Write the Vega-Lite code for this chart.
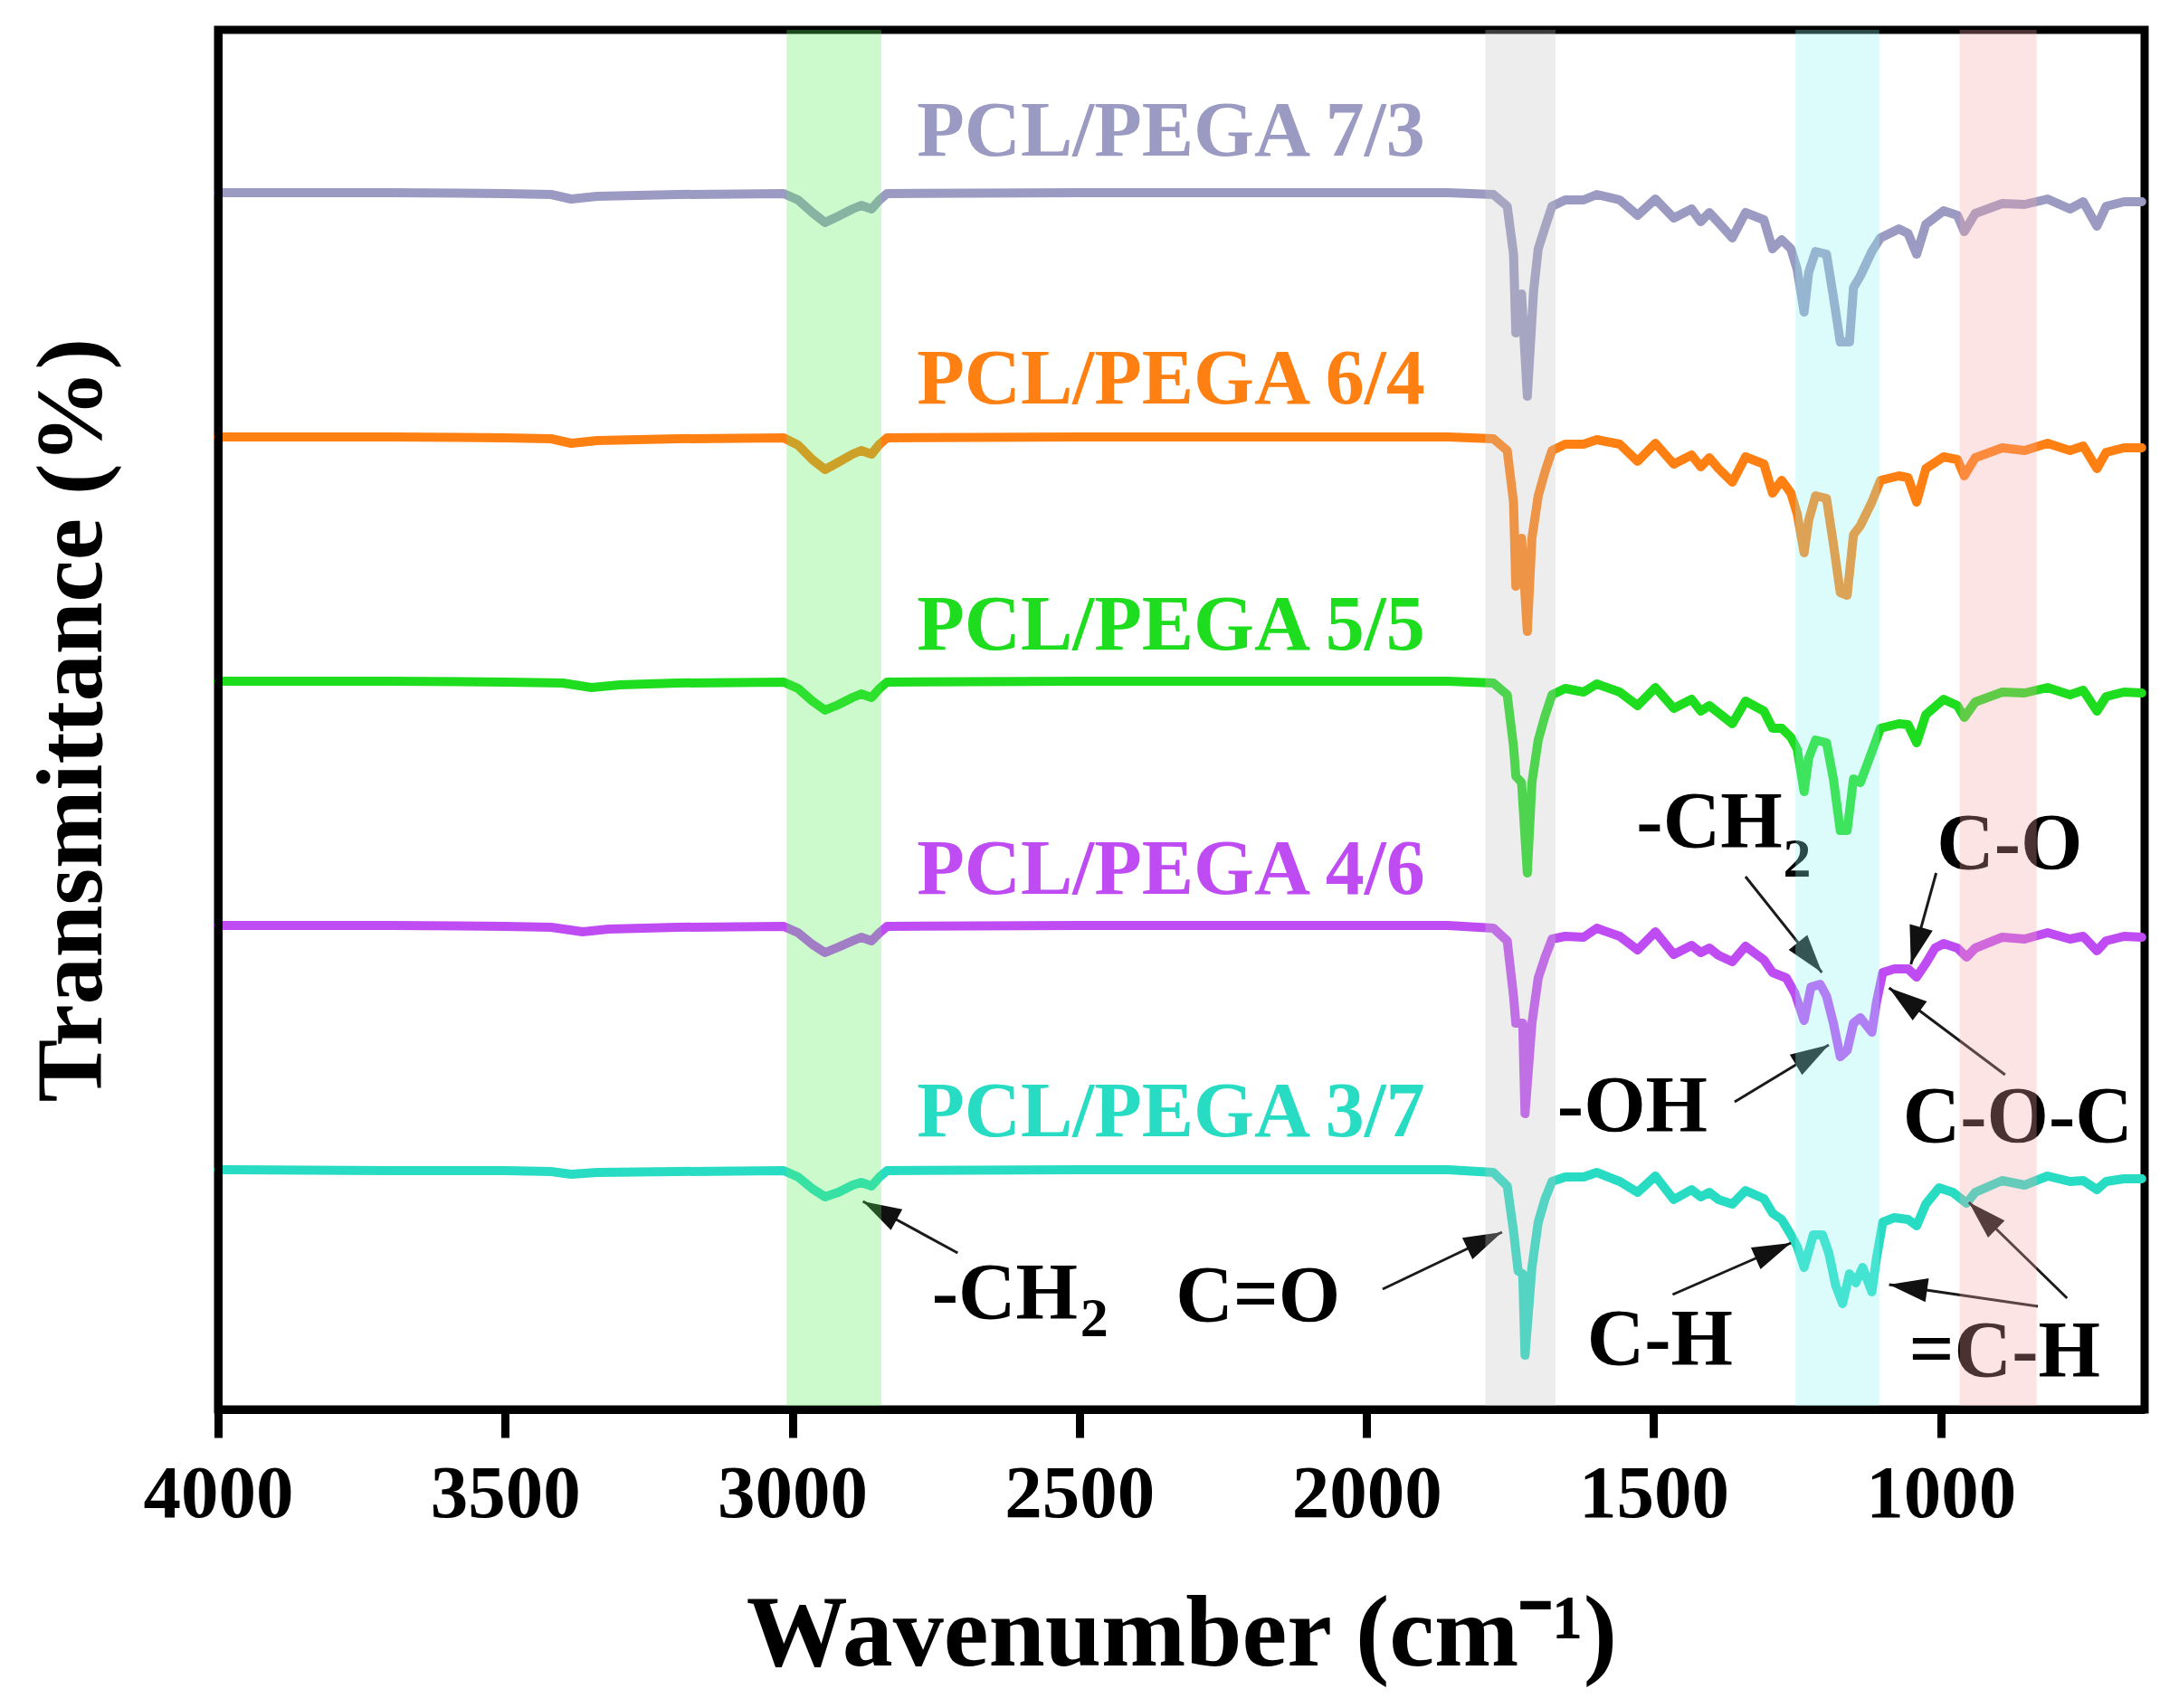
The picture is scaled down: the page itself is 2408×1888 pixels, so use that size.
{
  "$schema": "https://vega.github.io/schema/vega-lite/v6.json",
  "width": 2129,
  "height": 1525,
  "autosize": {"type": "none"},
  "padding": {"left": 241, "top": 33, "right": 38, "bottom": 330},
  "background": "white",
  "config": {
    "font": "Liberation Serif",
    "view": {"stroke": "black", "strokeWidth": 9},
    "axis": {"grid": false}
  },
  "resolve": {"scale": {"color": "independent", "fill": "independent"}},
  "datasets": {
    "spectra": [
      {"series": "PCL/PEGA 7/3", "wn": 4000, "T": 134.5},
      {"series": "PCL/PEGA 7/3", "wn": 3700, "T": 134.5},
      {"series": "PCL/PEGA 7/3", "wn": 3500, "T": 134.4},
      {"series": "PCL/PEGA 7/3", "wn": 3420, "T": 134.3},
      {"series": "PCL/PEGA 7/3", "wn": 3385, "T": 133.8},
      {"series": "PCL/PEGA 7/3", "wn": 3340, "T": 134.1},
      {"series": "PCL/PEGA 7/3", "wn": 3200, "T": 134.3},
      {"series": "PCL/PEGA 7/3", "wn": 3015, "T": 134.4},
      {"series": "PCL/PEGA 7/3", "wn": 2990, "T": 133.7},
      {"series": "PCL/PEGA 7/3", "wn": 2965, "T": 132.3},
      {"series": "PCL/PEGA 7/3", "wn": 2943, "T": 131.2},
      {"series": "PCL/PEGA 7/3", "wn": 2920, "T": 131.9},
      {"series": "PCL/PEGA 7/3", "wn": 2895, "T": 132.7},
      {"series": "PCL/PEGA 7/3", "wn": 2880, "T": 133.1},
      {"series": "PCL/PEGA 7/3", "wn": 2862, "T": 132.7},
      {"series": "PCL/PEGA 7/3", "wn": 2848, "T": 133.7},
      {"series": "PCL/PEGA 7/3", "wn": 2835, "T": 134.4},
      {"series": "PCL/PEGA 7/3", "wn": 2500, "T": 134.5},
      {"series": "PCL/PEGA 7/3", "wn": 2000, "T": 134.5},
      {"series": "PCL/PEGA 7/3", "wn": 1858, "T": 134.5},
      {"series": "PCL/PEGA 7/3", "wn": 1779, "T": 134.3},
      {"series": "PCL/PEGA 7/3", "wn": 1755, "T": 133.0},
      {"series": "PCL/PEGA 7/3", "wn": 1744, "T": 127.7},
      {"series": "PCL/PEGA 7/3", "wn": 1740, "T": 119.0},
      {"series": "PCL/PEGA 7/3", "wn": 1730, "T": 123.3},
      {"series": "PCL/PEGA 7/3", "wn": 1720, "T": 112.0},
      {"series": "PCL/PEGA 7/3", "wn": 1709, "T": 123.7},
      {"series": "PCL/PEGA 7/3", "wn": 1701, "T": 128.3},
      {"series": "PCL/PEGA 7/3", "wn": 1689, "T": 130.7},
      {"series": "PCL/PEGA 7/3", "wn": 1677, "T": 133.0},
      {"series": "PCL/PEGA 7/3", "wn": 1654, "T": 133.7},
      {"series": "PCL/PEGA 7/3", "wn": 1622, "T": 133.7},
      {"series": "PCL/PEGA 7/3", "wn": 1599, "T": 134.3},
      {"series": "PCL/PEGA 7/3", "wn": 1559, "T": 133.7},
      {"series": "PCL/PEGA 7/3", "wn": 1528, "T": 132.0},
      {"series": "PCL/PEGA 7/3", "wn": 1497, "T": 133.8},
      {"series": "PCL/PEGA 7/3", "wn": 1465, "T": 131.7},
      {"series": "PCL/PEGA 7/3", "wn": 1434, "T": 132.7},
      {"series": "PCL/PEGA 7/3", "wn": 1418, "T": 131.3},
      {"series": "PCL/PEGA 7/3", "wn": 1403, "T": 132.3},
      {"series": "PCL/PEGA 7/3", "wn": 1387, "T": 131.2},
      {"series": "PCL/PEGA 7/3", "wn": 1363, "T": 129.5},
      {"series": "PCL/PEGA 7/3", "wn": 1340, "T": 132.3},
      {"series": "PCL/PEGA 7/3", "wn": 1308, "T": 131.5},
      {"series": "PCL/PEGA 7/3", "wn": 1293, "T": 128.3},
      {"series": "PCL/PEGA 7/3", "wn": 1277, "T": 129.3},
      {"series": "PCL/PEGA 7/3", "wn": 1261, "T": 128.3},
      {"series": "PCL/PEGA 7/3", "wn": 1250, "T": 126.0},
      {"series": "PCL/PEGA 7/3", "wn": 1238, "T": 121.3},
      {"series": "PCL/PEGA 7/3", "wn": 1230, "T": 125.7},
      {"series": "PCL/PEGA 7/3", "wn": 1218, "T": 128.0},
      {"series": "PCL/PEGA 7/3", "wn": 1199, "T": 127.7},
      {"series": "PCL/PEGA 7/3", "wn": 1187, "T": 123.0},
      {"series": "PCL/PEGA 7/3", "wn": 1175, "T": 118.0},
      {"series": "PCL/PEGA 7/3", "wn": 1159, "T": 118.0},
      {"series": "PCL/PEGA 7/3", "wn": 1152, "T": 124.0},
      {"series": "PCL/PEGA 7/3", "wn": 1140, "T": 125.3},
      {"series": "PCL/PEGA 7/3", "wn": 1120, "T": 128.0},
      {"series": "PCL/PEGA 7/3", "wn": 1105, "T": 129.5},
      {"series": "PCL/PEGA 7/3", "wn": 1073, "T": 130.5},
      {"series": "PCL/PEGA 7/3", "wn": 1057, "T": 130.0},
      {"series": "PCL/PEGA 7/3", "wn": 1042, "T": 127.7},
      {"series": "PCL/PEGA 7/3", "wn": 1026, "T": 131.0},
      {"series": "PCL/PEGA 7/3", "wn": 995, "T": 132.5},
      {"series": "PCL/PEGA 7/3", "wn": 971, "T": 132.0},
      {"series": "PCL/PEGA 7/3", "wn": 959, "T": 130.2},
      {"series": "PCL/PEGA 7/3", "wn": 940, "T": 132.2},
      {"series": "PCL/PEGA 7/3", "wn": 893, "T": 133.3},
      {"series": "PCL/PEGA 7/3", "wn": 854, "T": 133.2},
      {"series": "PCL/PEGA 7/3", "wn": 814, "T": 133.8},
      {"series": "PCL/PEGA 7/3", "wn": 775, "T": 132.7},
      {"series": "PCL/PEGA 7/3", "wn": 752, "T": 133.5},
      {"series": "PCL/PEGA 7/3", "wn": 728, "T": 130.8},
      {"series": "PCL/PEGA 7/3", "wn": 712, "T": 133.0},
      {"series": "PCL/PEGA 7/3", "wn": 681, "T": 133.5},
      {"series": "PCL/PEGA 7/3", "wn": 650, "T": 133.5},

      {"series": "PCL/PEGA 6/4", "wn": 4000, "T": 107.5},
      {"series": "PCL/PEGA 6/4", "wn": 3700, "T": 107.5},
      {"series": "PCL/PEGA 6/4", "wn": 3500, "T": 107.4},
      {"series": "PCL/PEGA 6/4", "wn": 3420, "T": 107.3},
      {"series": "PCL/PEGA 6/4", "wn": 3385, "T": 106.8},
      {"series": "PCL/PEGA 6/4", "wn": 3340, "T": 107.1},
      {"series": "PCL/PEGA 6/4", "wn": 3200, "T": 107.3},
      {"series": "PCL/PEGA 6/4", "wn": 3015, "T": 107.4},
      {"series": "PCL/PEGA 6/4", "wn": 2990, "T": 106.6},
      {"series": "PCL/PEGA 6/4", "wn": 2965, "T": 105.0},
      {"series": "PCL/PEGA 6/4", "wn": 2943, "T": 103.9},
      {"series": "PCL/PEGA 6/4", "wn": 2920, "T": 104.7},
      {"series": "PCL/PEGA 6/4", "wn": 2895, "T": 105.6},
      {"series": "PCL/PEGA 6/4", "wn": 2880, "T": 106.0},
      {"series": "PCL/PEGA 6/4", "wn": 2862, "T": 105.6},
      {"series": "PCL/PEGA 6/4", "wn": 2848, "T": 106.7},
      {"series": "PCL/PEGA 6/4", "wn": 2835, "T": 107.4},
      {"series": "PCL/PEGA 6/4", "wn": 2500, "T": 107.5},
      {"series": "PCL/PEGA 6/4", "wn": 2000, "T": 107.5},
      {"series": "PCL/PEGA 6/4", "wn": 1858, "T": 107.5},
      {"series": "PCL/PEGA 6/4", "wn": 1779, "T": 107.3},
      {"series": "PCL/PEGA 6/4", "wn": 1755, "T": 106.0},
      {"series": "PCL/PEGA 6/4", "wn": 1744, "T": 100.3},
      {"series": "PCL/PEGA 6/4", "wn": 1740, "T": 91.0},
      {"series": "PCL/PEGA 6/4", "wn": 1730, "T": 96.3},
      {"series": "PCL/PEGA 6/4", "wn": 1720, "T": 86.0},
      {"series": "PCL/PEGA 6/4", "wn": 1712, "T": 96.3},
      {"series": "PCL/PEGA 6/4", "wn": 1701, "T": 101.0},
      {"series": "PCL/PEGA 6/4", "wn": 1689, "T": 103.7},
      {"series": "PCL/PEGA 6/4", "wn": 1677, "T": 106.0},
      {"series": "PCL/PEGA 6/4", "wn": 1654, "T": 106.7},
      {"series": "PCL/PEGA 6/4", "wn": 1622, "T": 106.7},
      {"series": "PCL/PEGA 6/4", "wn": 1599, "T": 107.2},
      {"series": "PCL/PEGA 6/4", "wn": 1559, "T": 106.7},
      {"series": "PCL/PEGA 6/4", "wn": 1528, "T": 104.8},
      {"series": "PCL/PEGA 6/4", "wn": 1497, "T": 106.8},
      {"series": "PCL/PEGA 6/4", "wn": 1465, "T": 104.5},
      {"series": "PCL/PEGA 6/4", "wn": 1434, "T": 105.5},
      {"series": "PCL/PEGA 6/4", "wn": 1418, "T": 104.2},
      {"series": "PCL/PEGA 6/4", "wn": 1403, "T": 105.2},
      {"series": "PCL/PEGA 6/4", "wn": 1387, "T": 104.0},
      {"series": "PCL/PEGA 6/4", "wn": 1363, "T": 102.5},
      {"series": "PCL/PEGA 6/4", "wn": 1340, "T": 105.3},
      {"series": "PCL/PEGA 6/4", "wn": 1308, "T": 104.5},
      {"series": "PCL/PEGA 6/4", "wn": 1293, "T": 101.3},
      {"series": "PCL/PEGA 6/4", "wn": 1277, "T": 102.7},
      {"series": "PCL/PEGA 6/4", "wn": 1261, "T": 101.3},
      {"series": "PCL/PEGA 6/4", "wn": 1250, "T": 99.0},
      {"series": "PCL/PEGA 6/4", "wn": 1238, "T": 94.7},
      {"series": "PCL/PEGA 6/4", "wn": 1230, "T": 98.3},
      {"series": "PCL/PEGA 6/4", "wn": 1218, "T": 101.0},
      {"series": "PCL/PEGA 6/4", "wn": 1199, "T": 100.7},
      {"series": "PCL/PEGA 6/4", "wn": 1187, "T": 95.7},
      {"series": "PCL/PEGA 6/4", "wn": 1175, "T": 90.3},
      {"series": "PCL/PEGA 6/4", "wn": 1163, "T": 90.0},
      {"series": "PCL/PEGA 6/4", "wn": 1152, "T": 96.7},
      {"series": "PCL/PEGA 6/4", "wn": 1140, "T": 97.7},
      {"series": "PCL/PEGA 6/4", "wn": 1120, "T": 100.3},
      {"series": "PCL/PEGA 6/4", "wn": 1105, "T": 102.7},
      {"series": "PCL/PEGA 6/4", "wn": 1073, "T": 103.2},
      {"series": "PCL/PEGA 6/4", "wn": 1057, "T": 103.0},
      {"series": "PCL/PEGA 6/4", "wn": 1042, "T": 100.3},
      {"series": "PCL/PEGA 6/4", "wn": 1026, "T": 104.0},
      {"series": "PCL/PEGA 6/4", "wn": 995, "T": 105.3},
      {"series": "PCL/PEGA 6/4", "wn": 971, "T": 105.0},
      {"series": "PCL/PEGA 6/4", "wn": 959, "T": 103.2},
      {"series": "PCL/PEGA 6/4", "wn": 940, "T": 105.2},
      {"series": "PCL/PEGA 6/4", "wn": 893, "T": 106.3},
      {"series": "PCL/PEGA 6/4", "wn": 854, "T": 106.0},
      {"series": "PCL/PEGA 6/4", "wn": 814, "T": 106.8},
      {"series": "PCL/PEGA 6/4", "wn": 775, "T": 106.0},
      {"series": "PCL/PEGA 6/4", "wn": 752, "T": 106.5},
      {"series": "PCL/PEGA 6/4", "wn": 728, "T": 104.0},
      {"series": "PCL/PEGA 6/4", "wn": 712, "T": 105.8},
      {"series": "PCL/PEGA 6/4", "wn": 681, "T": 106.3},
      {"series": "PCL/PEGA 6/4", "wn": 650, "T": 106.3},

      {"series": "PCL/PEGA 5/5", "wn": 4000, "T": 80.5},
      {"series": "PCL/PEGA 5/5", "wn": 3700, "T": 80.5},
      {"series": "PCL/PEGA 5/5", "wn": 3500, "T": 80.4},
      {"series": "PCL/PEGA 5/5", "wn": 3400, "T": 80.3},
      {"series": "PCL/PEGA 5/5", "wn": 3350, "T": 79.8},
      {"series": "PCL/PEGA 5/5", "wn": 3300, "T": 80.1},
      {"series": "PCL/PEGA 5/5", "wn": 3200, "T": 80.3},
      {"series": "PCL/PEGA 5/5", "wn": 3015, "T": 80.4},
      {"series": "PCL/PEGA 5/5", "wn": 2990, "T": 79.7},
      {"series": "PCL/PEGA 5/5", "wn": 2965, "T": 78.3},
      {"series": "PCL/PEGA 5/5", "wn": 2943, "T": 77.3},
      {"series": "PCL/PEGA 5/5", "wn": 2920, "T": 77.9},
      {"series": "PCL/PEGA 5/5", "wn": 2895, "T": 78.7},
      {"series": "PCL/PEGA 5/5", "wn": 2880, "T": 79.1},
      {"series": "PCL/PEGA 5/5", "wn": 2862, "T": 78.7},
      {"series": "PCL/PEGA 5/5", "wn": 2848, "T": 79.7},
      {"series": "PCL/PEGA 5/5", "wn": 2835, "T": 80.4},
      {"series": "PCL/PEGA 5/5", "wn": 2500, "T": 80.5},
      {"series": "PCL/PEGA 5/5", "wn": 2000, "T": 80.5},
      {"series": "PCL/PEGA 5/5", "wn": 1858, "T": 80.5},
      {"series": "PCL/PEGA 5/5", "wn": 1779, "T": 80.3},
      {"series": "PCL/PEGA 5/5", "wn": 1755, "T": 79.0},
      {"series": "PCL/PEGA 5/5", "wn": 1744, "T": 73.3},
      {"series": "PCL/PEGA 5/5", "wn": 1740, "T": 70.0},
      {"series": "PCL/PEGA 5/5", "wn": 1730, "T": 69.3},
      {"series": "PCL/PEGA 5/5", "wn": 1720, "T": 59.3},
      {"series": "PCL/PEGA 5/5", "wn": 1712, "T": 69.3},
      {"series": "PCL/PEGA 5/5", "wn": 1701, "T": 74.0},
      {"series": "PCL/PEGA 5/5", "wn": 1689, "T": 76.7},
      {"series": "PCL/PEGA 5/5", "wn": 1677, "T": 79.0},
      {"series": "PCL/PEGA 5/5", "wn": 1654, "T": 79.7},
      {"series": "PCL/PEGA 5/5", "wn": 1622, "T": 79.3},
      {"series": "PCL/PEGA 5/5", "wn": 1599, "T": 80.2},
      {"series": "PCL/PEGA 5/5", "wn": 1559, "T": 79.3},
      {"series": "PCL/PEGA 5/5", "wn": 1528, "T": 77.8},
      {"series": "PCL/PEGA 5/5", "wn": 1497, "T": 79.8},
      {"series": "PCL/PEGA 5/5", "wn": 1465, "T": 77.5},
      {"series": "PCL/PEGA 5/5", "wn": 1434, "T": 78.5},
      {"series": "PCL/PEGA 5/5", "wn": 1418, "T": 77.2},
      {"series": "PCL/PEGA 5/5", "wn": 1403, "T": 77.8},
      {"series": "PCL/PEGA 5/5", "wn": 1387, "T": 77.0},
      {"series": "PCL/PEGA 5/5", "wn": 1363, "T": 75.8},
      {"series": "PCL/PEGA 5/5", "wn": 1340, "T": 78.3},
      {"series": "PCL/PEGA 5/5", "wn": 1308, "T": 77.2},
      {"series": "PCL/PEGA 5/5", "wn": 1293, "T": 75.3},
      {"series": "PCL/PEGA 5/5", "wn": 1277, "T": 75.3},
      {"series": "PCL/PEGA 5/5", "wn": 1261, "T": 74.3},
      {"series": "PCL/PEGA 5/5", "wn": 1250, "T": 73.0},
      {"series": "PCL/PEGA 5/5", "wn": 1238, "T": 68.3},
      {"series": "PCL/PEGA 5/5", "wn": 1230, "T": 72.0},
      {"series": "PCL/PEGA 5/5", "wn": 1218, "T": 74.0},
      {"series": "PCL/PEGA 5/5", "wn": 1199, "T": 73.7},
      {"series": "PCL/PEGA 5/5", "wn": 1187, "T": 69.7},
      {"series": "PCL/PEGA 5/5", "wn": 1175, "T": 64.0},
      {"series": "PCL/PEGA 5/5", "wn": 1163, "T": 64.0},
      {"series": "PCL/PEGA 5/5", "wn": 1152, "T": 69.7},
      {"series": "PCL/PEGA 5/5", "wn": 1140, "T": 69.3},
      {"series": "PCL/PEGA 5/5", "wn": 1120, "T": 72.7},
      {"series": "PCL/PEGA 5/5", "wn": 1105, "T": 75.3},
      {"series": "PCL/PEGA 5/5", "wn": 1073, "T": 75.8},
      {"series": "PCL/PEGA 5/5", "wn": 1057, "T": 75.7},
      {"series": "PCL/PEGA 5/5", "wn": 1042, "T": 73.7},
      {"series": "PCL/PEGA 5/5", "wn": 1026, "T": 76.8},
      {"series": "PCL/PEGA 5/5", "wn": 995, "T": 78.5},
      {"series": "PCL/PEGA 5/5", "wn": 971, "T": 77.8},
      {"series": "PCL/PEGA 5/5", "wn": 959, "T": 76.5},
      {"series": "PCL/PEGA 5/5", "wn": 940, "T": 78.2},
      {"series": "PCL/PEGA 5/5", "wn": 893, "T": 79.3},
      {"series": "PCL/PEGA 5/5", "wn": 854, "T": 79.2},
      {"series": "PCL/PEGA 5/5", "wn": 814, "T": 79.8},
      {"series": "PCL/PEGA 5/5", "wn": 775, "T": 79.0},
      {"series": "PCL/PEGA 5/5", "wn": 752, "T": 79.5},
      {"series": "PCL/PEGA 5/5", "wn": 728, "T": 77.2},
      {"series": "PCL/PEGA 5/5", "wn": 712, "T": 78.8},
      {"series": "PCL/PEGA 5/5", "wn": 681, "T": 79.3},
      {"series": "PCL/PEGA 5/5", "wn": 650, "T": 79.2},

      {"series": "PCL/PEGA 4/6", "wn": 4000, "T": 53.5},
      {"series": "PCL/PEGA 4/6", "wn": 3700, "T": 53.5},
      {"series": "PCL/PEGA 4/6", "wn": 3500, "T": 53.4},
      {"series": "PCL/PEGA 4/6", "wn": 3420, "T": 53.3},
      {"series": "PCL/PEGA 4/6", "wn": 3365, "T": 52.8},
      {"series": "PCL/PEGA 4/6", "wn": 3320, "T": 53.1},
      {"series": "PCL/PEGA 4/6", "wn": 3200, "T": 53.3},
      {"series": "PCL/PEGA 4/6", "wn": 3015, "T": 53.4},
      {"series": "PCL/PEGA 4/6", "wn": 2990, "T": 52.7},
      {"series": "PCL/PEGA 4/6", "wn": 2965, "T": 51.4},
      {"series": "PCL/PEGA 4/6", "wn": 2943, "T": 50.5},
      {"series": "PCL/PEGA 4/6", "wn": 2920, "T": 51.1},
      {"series": "PCL/PEGA 4/6", "wn": 2895, "T": 51.8},
      {"series": "PCL/PEGA 4/6", "wn": 2880, "T": 52.2},
      {"series": "PCL/PEGA 4/6", "wn": 2862, "T": 51.8},
      {"series": "PCL/PEGA 4/6", "wn": 2848, "T": 52.7},
      {"series": "PCL/PEGA 4/6", "wn": 2835, "T": 53.4},
      {"series": "PCL/PEGA 4/6", "wn": 2500, "T": 53.5},
      {"series": "PCL/PEGA 4/6", "wn": 2000, "T": 53.5},
      {"series": "PCL/PEGA 4/6", "wn": 1858, "T": 53.5},
      {"series": "PCL/PEGA 4/6", "wn": 1779, "T": 53.2},
      {"series": "PCL/PEGA 4/6", "wn": 1755, "T": 51.8},
      {"series": "PCL/PEGA 4/6", "wn": 1744, "T": 45.7},
      {"series": "PCL/PEGA 4/6", "wn": 1740, "T": 42.7},
      {"series": "PCL/PEGA 4/6", "wn": 1728, "T": 42.7},
      {"series": "PCL/PEGA 4/6", "wn": 1724, "T": 32.7},
      {"series": "PCL/PEGA 4/6", "wn": 1712, "T": 42.7},
      {"series": "PCL/PEGA 4/6", "wn": 1701, "T": 47.7},
      {"series": "PCL/PEGA 4/6", "wn": 1689, "T": 50.0},
      {"series": "PCL/PEGA 4/6", "wn": 1677, "T": 52.0},
      {"series": "PCL/PEGA 4/6", "wn": 1654, "T": 52.3},
      {"series": "PCL/PEGA 4/6", "wn": 1622, "T": 52.2},
      {"series": "PCL/PEGA 4/6", "wn": 1599, "T": 53.2},
      {"series": "PCL/PEGA 4/6", "wn": 1559, "T": 52.3},
      {"series": "PCL/PEGA 4/6", "wn": 1528, "T": 50.8},
      {"series": "PCL/PEGA 4/6", "wn": 1497, "T": 52.8},
      {"series": "PCL/PEGA 4/6", "wn": 1465, "T": 50.3},
      {"series": "PCL/PEGA 4/6", "wn": 1434, "T": 51.3},
      {"series": "PCL/PEGA 4/6", "wn": 1418, "T": 50.5},
      {"series": "PCL/PEGA 4/6", "wn": 1403, "T": 51.0},
      {"series": "PCL/PEGA 4/6", "wn": 1387, "T": 50.2},
      {"series": "PCL/PEGA 4/6", "wn": 1363, "T": 49.5},
      {"series": "PCL/PEGA 4/6", "wn": 1340, "T": 51.2},
      {"series": "PCL/PEGA 4/6", "wn": 1308, "T": 49.7},
      {"series": "PCL/PEGA 4/6", "wn": 1293, "T": 48.3},
      {"series": "PCL/PEGA 4/6", "wn": 1269, "T": 47.7},
      {"series": "PCL/PEGA 4/6", "wn": 1254, "T": 46.0},
      {"series": "PCL/PEGA 4/6", "wn": 1238, "T": 43.0},
      {"series": "PCL/PEGA 4/6", "wn": 1226, "T": 46.7},
      {"series": "PCL/PEGA 4/6", "wn": 1210, "T": 47.0},
      {"series": "PCL/PEGA 4/6", "wn": 1199, "T": 45.7},
      {"series": "PCL/PEGA 4/6", "wn": 1187, "T": 42.7},
      {"series": "PCL/PEGA 4/6", "wn": 1175, "T": 39.0},
      {"series": "PCL/PEGA 4/6", "wn": 1163, "T": 39.7},
      {"series": "PCL/PEGA 4/6", "wn": 1152, "T": 42.7},
      {"series": "PCL/PEGA 4/6", "wn": 1140, "T": 43.3},
      {"series": "PCL/PEGA 4/6", "wn": 1120, "T": 41.7},
      {"series": "PCL/PEGA 4/6", "wn": 1112, "T": 45.0},
      {"series": "PCL/PEGA 4/6", "wn": 1101, "T": 48.3},
      {"series": "PCL/PEGA 4/6", "wn": 1081, "T": 48.7},
      {"series": "PCL/PEGA 4/6", "wn": 1057, "T": 48.7},
      {"series": "PCL/PEGA 4/6", "wn": 1042, "T": 47.8},
      {"series": "PCL/PEGA 4/6", "wn": 1026, "T": 49.3},
      {"series": "PCL/PEGA 4/6", "wn": 1010, "T": 51.0},
      {"series": "PCL/PEGA 4/6", "wn": 995, "T": 51.5},
      {"series": "PCL/PEGA 4/6", "wn": 971, "T": 51.0},
      {"series": "PCL/PEGA 4/6", "wn": 955, "T": 50.0},
      {"series": "PCL/PEGA 4/6", "wn": 940, "T": 51.0},
      {"series": "PCL/PEGA 4/6", "wn": 893, "T": 52.2},
      {"series": "PCL/PEGA 4/6", "wn": 854, "T": 52.0},
      {"series": "PCL/PEGA 4/6", "wn": 814, "T": 52.7},
      {"series": "PCL/PEGA 4/6", "wn": 775, "T": 52.0},
      {"series": "PCL/PEGA 4/6", "wn": 752, "T": 52.3},
      {"series": "PCL/PEGA 4/6", "wn": 728, "T": 50.7},
      {"series": "PCL/PEGA 4/6", "wn": 712, "T": 51.8},
      {"series": "PCL/PEGA 4/6", "wn": 681, "T": 52.3},
      {"series": "PCL/PEGA 4/6", "wn": 650, "T": 52.2},

      {"series": "PCL/PEGA 3/7", "wn": 4000, "T": 26.5},
      {"series": "PCL/PEGA 3/7", "wn": 3700, "T": 26.4},
      {"series": "PCL/PEGA 3/7", "wn": 3500, "T": 26.4},
      {"series": "PCL/PEGA 3/7", "wn": 3420, "T": 26.3},
      {"series": "PCL/PEGA 3/7", "wn": 3385, "T": 26.0},
      {"series": "PCL/PEGA 3/7", "wn": 3340, "T": 26.2},
      {"series": "PCL/PEGA 3/7", "wn": 3200, "T": 26.3},
      {"series": "PCL/PEGA 3/7", "wn": 3015, "T": 26.4},
      {"series": "PCL/PEGA 3/7", "wn": 2990, "T": 25.7},
      {"series": "PCL/PEGA 3/7", "wn": 2965, "T": 24.4},
      {"series": "PCL/PEGA 3/7", "wn": 2943, "T": 23.5},
      {"series": "PCL/PEGA 3/7", "wn": 2920, "T": 24.0},
      {"series": "PCL/PEGA 3/7", "wn": 2895, "T": 24.8},
      {"series": "PCL/PEGA 3/7", "wn": 2880, "T": 25.1},
      {"series": "PCL/PEGA 3/7", "wn": 2862, "T": 24.7},
      {"series": "PCL/PEGA 3/7", "wn": 2848, "T": 25.7},
      {"series": "PCL/PEGA 3/7", "wn": 2835, "T": 26.4},
      {"series": "PCL/PEGA 3/7", "wn": 2500, "T": 26.5},
      {"series": "PCL/PEGA 3/7", "wn": 2000, "T": 26.5},
      {"series": "PCL/PEGA 3/7", "wn": 1858, "T": 26.5},
      {"series": "PCL/PEGA 3/7", "wn": 1779, "T": 26.2},
      {"series": "PCL/PEGA 3/7", "wn": 1755, "T": 24.7},
      {"series": "PCL/PEGA 3/7", "wn": 1744, "T": 19.7},
      {"series": "PCL/PEGA 3/7", "wn": 1736, "T": 15.3},
      {"series": "PCL/PEGA 3/7", "wn": 1728, "T": 15.0},
      {"series": "PCL/PEGA 3/7", "wn": 1724, "T": 6.0},
      {"series": "PCL/PEGA 3/7", "wn": 1712, "T": 15.7},
      {"series": "PCL/PEGA 3/7", "wn": 1701, "T": 20.7},
      {"series": "PCL/PEGA 3/7", "wn": 1689, "T": 23.3},
      {"series": "PCL/PEGA 3/7", "wn": 1677, "T": 25.2},
      {"series": "PCL/PEGA 3/7", "wn": 1654, "T": 25.7},
      {"series": "PCL/PEGA 3/7", "wn": 1622, "T": 25.7},
      {"series": "PCL/PEGA 3/7", "wn": 1599, "T": 26.2},
      {"series": "PCL/PEGA 3/7", "wn": 1559, "T": 25.2},
      {"series": "PCL/PEGA 3/7", "wn": 1528, "T": 24.0},
      {"series": "PCL/PEGA 3/7", "wn": 1497, "T": 25.8},
      {"series": "PCL/PEGA 3/7", "wn": 1465, "T": 23.2},
      {"series": "PCL/PEGA 3/7", "wn": 1434, "T": 24.3},
      {"series": "PCL/PEGA 3/7", "wn": 1418, "T": 23.5},
      {"series": "PCL/PEGA 3/7", "wn": 1403, "T": 24.0},
      {"series": "PCL/PEGA 3/7", "wn": 1387, "T": 23.2},
      {"series": "PCL/PEGA 3/7", "wn": 1363, "T": 22.7},
      {"series": "PCL/PEGA 3/7", "wn": 1340, "T": 24.2},
      {"series": "PCL/PEGA 3/7", "wn": 1308, "T": 23.3},
      {"series": "PCL/PEGA 3/7", "wn": 1293, "T": 21.7},
      {"series": "PCL/PEGA 3/7", "wn": 1277, "T": 21.0},
      {"series": "PCL/PEGA 3/7", "wn": 1261, "T": 19.3},
      {"series": "PCL/PEGA 3/7", "wn": 1250, "T": 18.0},
      {"series": "PCL/PEGA 3/7", "wn": 1238, "T": 15.7},
      {"series": "PCL/PEGA 3/7", "wn": 1222, "T": 19.3},
      {"series": "PCL/PEGA 3/7", "wn": 1206, "T": 19.3},
      {"series": "PCL/PEGA 3/7", "wn": 1195, "T": 17.3},
      {"series": "PCL/PEGA 3/7", "wn": 1183, "T": 13.7},
      {"series": "PCL/PEGA 3/7", "wn": 1171, "T": 11.7},
      {"series": "PCL/PEGA 3/7", "wn": 1159, "T": 15.0},
      {"series": "PCL/PEGA 3/7", "wn": 1148, "T": 14.0},
      {"series": "PCL/PEGA 3/7", "wn": 1136, "T": 15.7},
      {"series": "PCL/PEGA 3/7", "wn": 1120, "T": 13.0},
      {"series": "PCL/PEGA 3/7", "wn": 1112, "T": 16.7},
      {"series": "PCL/PEGA 3/7", "wn": 1101, "T": 20.7},
      {"series": "PCL/PEGA 3/7", "wn": 1081, "T": 21.2},
      {"series": "PCL/PEGA 3/7", "wn": 1057, "T": 21.0},
      {"series": "PCL/PEGA 3/7", "wn": 1042, "T": 20.3},
      {"series": "PCL/PEGA 3/7", "wn": 1026, "T": 22.7},
      {"series": "PCL/PEGA 3/7", "wn": 1003, "T": 24.5},
      {"series": "PCL/PEGA 3/7", "wn": 979, "T": 24.0},
      {"series": "PCL/PEGA 3/7", "wn": 955, "T": 22.8},
      {"series": "PCL/PEGA 3/7", "wn": 940, "T": 24.0},
      {"series": "PCL/PEGA 3/7", "wn": 893, "T": 25.3},
      {"series": "PCL/PEGA 3/7", "wn": 854, "T": 24.8},
      {"series": "PCL/PEGA 3/7", "wn": 814, "T": 25.8},
      {"series": "PCL/PEGA 3/7", "wn": 775, "T": 25.2},
      {"series": "PCL/PEGA 3/7", "wn": 752, "T": 25.3},
      {"series": "PCL/PEGA 3/7", "wn": 728, "T": 24.3},
      {"series": "PCL/PEGA 3/7", "wn": 712, "T": 25.2},
      {"series": "PCL/PEGA 3/7", "wn": 681, "T": 25.5},
      {"series": "PCL/PEGA 3/7", "wn": 650, "T": 25.5}
    ],
    "labels": [
      {"series": "PCL/PEGA 7/3", "wn": 2783, "T": 138.6},
      {"series": "PCL/PEGA 6/4", "wn": 2783, "T": 111.2},
      {"series": "PCL/PEGA 5/5", "wn": 2783, "T": 84.0},
      {"series": "PCL/PEGA 4/6", "wn": 2783, "T": 57.0},
      {"series": "PCL/PEGA 3/7", "wn": 2783, "T": 30.2}
    ],
    "notes": [
      {"note": "-CH", "wn": 2630, "T": 10.1},
      {"note": "C=O", "wn": 2189, "T": 9.8},
      {"note": "-CH", "wn": 1403, "T": 62.2},
      {"note": "C-O", "wn": 880, "T": 59.8},
      {"note": "-OH", "wn": 1537, "T": 30.8},
      {"note": "C-O-C", "wn": 866, "T": 29.6},
      {"note": "C-H", "wn": 1489, "T": 5.0},
      {"note": "=C-H", "wn": 889, "T": 3.7}
    ],
    "subscripts": [
      {"note": "2", "wn": 2474, "T": 8.1},
      {"note": "2", "wn": 1250, "T": 58.9}
    ],
    "arrows": [
      {"id": 1, "wn": 2712, "T": 17.3, "wn2": 2877, "T2": 23.0},
      {"id": 2, "wn": 1972, "T": 13.3, "wn2": 1764, "T2": 19.6},
      {"id": 3, "wn": 1340, "T": 58.9, "wn2": 1207, "T2": 48.3},
      {"id": 4, "wn": 1008, "T": 59.3, "wn2": 1052, "T2": 49.2},
      {"id": 5, "wn": 1359, "T": 34.0, "wn2": 1195, "T2": 40.3},
      {"id": 6, "wn": 888, "T": 37.0, "wn2": 1090, "T2": 46.6},
      {"id": 7, "wn": 1467, "T": 12.7, "wn2": 1261, "T2": 18.4},
      {"id": 8, "wn": 831, "T": 11.4, "wn2": 1090, "T2": 13.8},
      {"id": 9, "wn": 780, "T": 12.3, "wn2": 951, "T2": 22.9}
    ],
    "bands": [
      {"band": "CH2", "from": 2845, "to": 3010},
      {"band": "C=O", "from": 1671, "to": 1793},
      {"band": "C-O-C", "from": 1107, "to": 1253},
      {"band": "=C-H", "from": 833, "to": 967}
    ]
  },
  "layer": [
    {
      "data": {"name": "spectra"},
      "mark": {"type": "line", "strokeWidth": 10, "strokeJoin": "round", "strokeCap": "round"},
      "encoding": {
        "x": {
          "field": "wn", "type": "quantitative",
          "scale": {"domain": [645, 4000], "reverse": true, "nice": false, "zero": false},
          "axis": {
            "title": "Wavenumber (cm⁻¹)",
            "values": [4000, 3500, 3000, 2500, 2000, 1500, 1000],
            "format": "d",
            "labelFont": "Liberation Serif", "labelFontWeight": "bold", "labelFontSize": 83,
            "labelColor": "black", "labelBaseline": "alphabetic", "labelPadding": 87,
            "labelFlush": false, "labelOverlap": false, "labelBound": false,
            "tickSize": 31, "tickWidth": 9, "tickColor": "black",
            "domainColor": "black", "domainWidth": 9,
            "titleFont": "Liberation Serif", "titleFontWeight": "bold", "titleFontSize": 112,
            "titleColor": "black", "titleBaseline": "alphabetic", "titleY": 282,
            "zindex": 1
          }
        },
        "y": {
          "field": "T", "type": "quantitative",
          "scale": {"domain": [0, 152.5], "nice": false, "zero": false},
          "axis": {
            "title": "Transmittance (%)",
            "labels": false, "ticks": false,
            "domainColor": "black", "domainWidth": 9,
            "titleFont": "Liberation Serif", "titleFontWeight": "bold", "titleFontSize": 104,
            "titleColor": "black", "titleBaseline": "alphabetic", "titleAngle": -90,
            "titleX": -130, "titleAlign": "center",
            "zindex": 1
          }
        },
        "color": {
          "field": "series", "type": "nominal",
          "scale": {
            "domain": ["PCL/PEGA 7/3", "PCL/PEGA 6/4", "PCL/PEGA 5/5", "PCL/PEGA 4/6", "PCL/PEGA 3/7"],
            "range": ["#9A9AC2", "#FF8012", "#1EDC1E", "#BF4CF2", "#28DCC3"]
          },
          "legend": null
        }
      }
    },
    {
      "data": {"name": "labels"},
      "mark": {"type": "text", "font": "Liberation Serif", "fontWeight": "bold", "fontSize": 86, "align": "left", "baseline": "alphabetic"},
      "encoding": {
        "x": {"field": "wn", "type": "quantitative", "title": "Wavenumber (cm⁻¹)"},
        "y": {"field": "T", "type": "quantitative", "title": "Transmittance (%)"},
        "text": {"field": "series"},
        "color": {
          "field": "series", "type": "nominal",
          "scale": {
            "domain": ["PCL/PEGA 7/3", "PCL/PEGA 6/4", "PCL/PEGA 5/5", "PCL/PEGA 4/6", "PCL/PEGA 3/7"],
            "range": ["#9A9AC2", "#FF8012", "#1EDC1E", "#BF4CF2", "#28DCC3"]
          },
          "legend": null
        }
      }
    },
    {
      "data": {"name": "arrows"},
      "mark": {"type": "rule", "strokeWidth": 3, "color": "#1a1a1a"},
      "encoding": {
        "x": {"field": "wn", "type": "quantitative", "title": "Wavenumber (cm⁻¹)"},
        "x2": {"field": "wn2"},
        "y": {"field": "T", "type": "quantitative", "title": "Transmittance (%)"},
        "y2": {"field": "T2"}
      }
    },
    {
      "data": {"name": "arrows"},
      "mark": {"type": "point", "shape": "M0,0L-0.62,2L0.62,2Z", "filled": true, "size": 1800, "opacity": 1, "color": "#111111", "strokeWidth": 0},
      "encoding": {
        "x": {"field": "wn2", "type": "quantitative", "title": "Wavenumber (cm⁻¹)"},
        "y": {"field": "T2", "type": "quantitative", "title": "Transmittance (%)"},
        "angle": {
          "field": "id", "type": "quantitative",
          "scale": {
            "type": "linear",
            "domain": [1, 2, 3, 4, 5, 6, 7, 8, 9],
            "range": [298.6, 64.6, 141.5, 195.5, 58.9, 306.8, 66.4, 278.3, 314.3],
            "zero": false, "nice": false
          },
          "legend": null
        }
      }
    },
    {
      "data": {"name": "notes"},
      "mark": {"type": "text", "font": "Liberation Serif", "fontWeight": "bold", "fontSize": 88, "align": "center", "baseline": "alphabetic", "color": "black"},
      "encoding": {
        "x": {"field": "wn", "type": "quantitative", "title": "Wavenumber (cm⁻¹)"},
        "y": {"field": "T", "type": "quantitative", "title": "Transmittance (%)"},
        "text": {"field": "note"}
      }
    },
    {
      "data": {"name": "subscripts"},
      "mark": {"type": "text", "font": "Liberation Serif", "fontWeight": "bold", "fontSize": 62, "align": "center", "baseline": "alphabetic", "color": "black"},
      "encoding": {
        "x": {"field": "wn", "type": "quantitative", "title": "Wavenumber (cm⁻¹)"},
        "y": {"field": "T", "type": "quantitative", "title": "Transmittance (%)"},
        "text": {"field": "note"}
      }
    },
    {
      "data": {"name": "bands"},
      "mark": {"type": "rect", "opacity": 0.3},
      "encoding": {
        "x": {"field": "from", "type": "quantitative", "title": "Wavenumber (cm⁻¹)"},
        "x2": {"field": "to"},
        "y": {"datum": 152.5, "type": "quantitative"},
        "y2": {"datum": 0},
        "fill": {
          "field": "band", "type": "nominal",
          "scale": {"domain": ["CH2", "C=O", "C-O-C", "=C-H"], "range": ["#58EE58", "#C4C4C4", "#8AF5F5", "#F8A5A5"]},
          "legend": null
        }
      }
    }
  ]
}
